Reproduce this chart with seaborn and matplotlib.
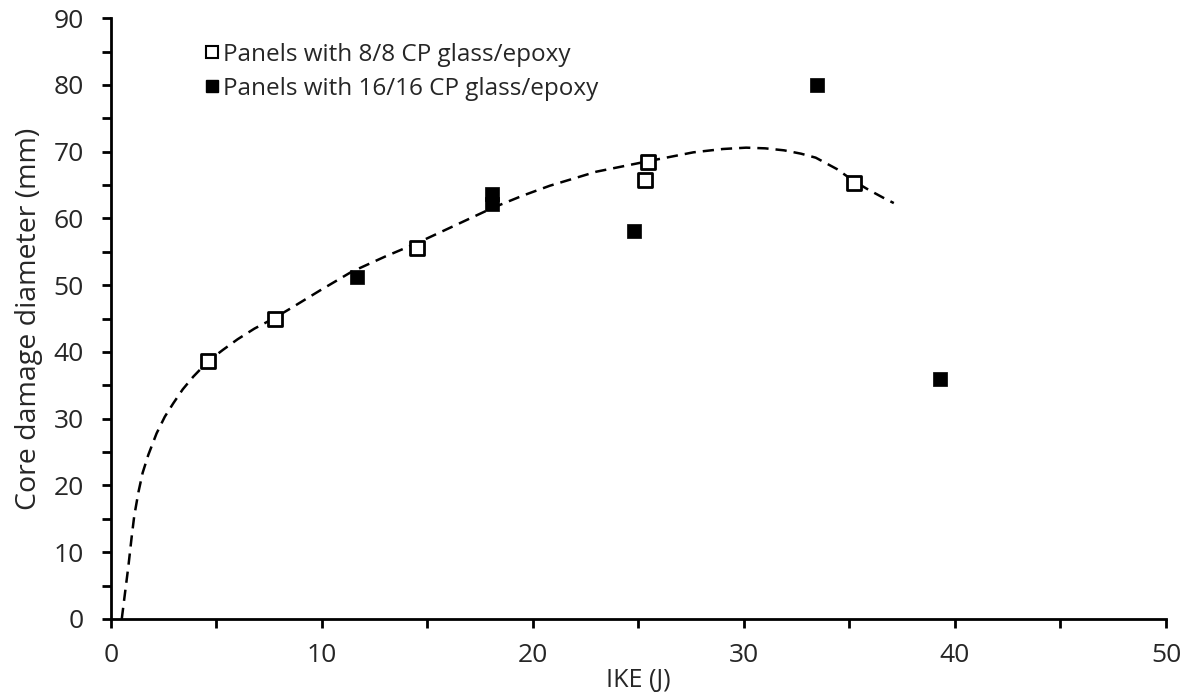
import matplotlib
matplotlib.use("Agg")
import matplotlib.pyplot as plt
import seaborn as sns
import pandas as pd
from matplotlib.ticker import MultipleLocator
from matplotlib.lines import Line2D

# data
ike_8 = [4.6, 7.75, 14.5, 25.45, 25.3, 35.2]
dia_8 = [38.7, 45.0, 55.6, 68.4, 65.7, 65.3]

ike_16 = [11.66, 18.05, 18.05, 24.8, 33.45, 39.3]
dia_16 = [51.2, 63.6, 62.1, 58.1, 80.0, 35.9]

# dashed trend curve, points read along it
trend_x = [0.51, 0.66, 0.82, 0.98, 1.1, 1.3, 1.5, 1.77, 2.16, 2.55, 2.95, 3.4, 3.9, 4.6,
           5.3, 6.0, 6.8, 7.7, 8.5, 9.9, 11.4, 13.0, 14.5, 16.2, 18.1, 19.5,
           20.8, 23.0, 25.5, 27.6, 29.0, 30.1, 31.0, 31.9, 32.7, 33.4, 34.4,
           35.2, 35.9, 36.6, 37.1]
trend_y = [0.0, 3.8, 7.8, 12.3, 15.4, 19.0, 21.9, 24.6, 27.8, 30.3, 32.3, 34.4, 36.3, 38.6,
           40.3, 41.9, 43.5, 45.0, 46.5, 49.2, 52.0, 54.3, 56.3, 58.8, 61.6, 63.4,
           64.9, 67.0, 68.6, 69.9, 70.4, 70.6, 70.5, 70.2, 69.7, 69.1, 67.4,
           65.6, 64.3, 63.1, 62.3]

labels = ["Panels with 8/8 CP glass/epoxy", "Panels with 16/16 CP glass/epoxy"]

sns.set_style("white")
plt.rcParams['font.family'] = ['Open Sans', 'DejaVu Sans']

fig, ax = plt.subplots(figsize=(11.91, 6.98), dpi=100)
fig.subplots_adjust(left=0.0932, right=0.979, bottom=0.1132, top=0.974)

trend = pd.DataFrame({"x": trend_x, "y": trend_y})
sns.lineplot(data=trend, x="x", y="y", ax=ax, sort=False, color="black",
             linestyle=(0, (4.5, 2.8)), linewidth=1.8)

sns.scatterplot(x=ike_8, y=dia_8, ax=ax, marker="s", s=115,
                facecolor="white", edgecolor="black", linewidth=2, zorder=3)
sns.scatterplot(x=ike_16, y=dia_16, ax=ax, marker="s", s=115,
                color="black", edgecolor="black", linewidth=0.5, zorder=3)

ax.set_xlim(0, 50)
ax.set_ylim(0, 90)
ax.xaxis.set_major_locator(MultipleLocator(10))
ax.xaxis.set_minor_locator(MultipleLocator(5))
ax.yaxis.set_major_locator(MultipleLocator(10))
ax.yaxis.set_minor_locator(MultipleLocator(5))
ax.tick_params(which="both", direction="out", length=6.5, width=2, color="black",
               bottom=True, left=True)
ax.tick_params(axis="y", which="major", labelsize=19, pad=13)
ax.tick_params(axis="x", which="major", labelsize=19, pad=11)

for side in ["top", "right"]:
    ax.spines[side].set_visible(False)
for side in ["left", "bottom"]:
    ax.spines[side].set_linewidth(2)
    ax.spines[side].set_color("black")

ax.set_xlabel("IKE (J)", fontsize=18, labelpad=0)
ax.set_ylabel("Core damage diameter (mm)", fontsize=20.5, labelpad=8)

handles = [
    Line2D([], [], marker="s", linestyle="", markersize=9, markerfacecolor="white",
           markeredgecolor="black", markeredgewidth=1.5),
    Line2D([], [], marker="s", linestyle="", markersize=9, markerfacecolor="black",
           markeredgecolor="black"),
]
ax.legend(handles, labels, loc="upper left", bbox_to_anchor=(0.08, 0.975),
          frameon=False, fontsize=17.5, handlelength=0.6, handletextpad=0.15,
          labelspacing=0.4, borderaxespad=0)

fig.savefig("out.png", dpi=100)
